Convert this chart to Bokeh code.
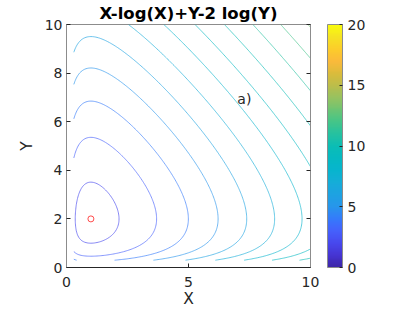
import numpy as np
from bokeh.plotting import figure
from bokeh.models import ColorBar, LinearColorMapper, FixedTicker, LinearAxis, Title
from bokeh.embed import file_html
from bokeh.resources import INLINE
from bokeh.core.properties import value

# ---- data ----
x_grid = np.arange(0.3, 10.0001, 0.05)
y_grid = np.arange(0.3, 10.0001, 0.05)
levels = [2, 3, 4, 5, 6, 7, 8, 9, 10, 11, 12, 13]
min_x = [1.0]
min_y = [2.0]
x_ticks = [0, 5, 10]
y_ticks = [0, 2, 4, 6, 8, 10]
cbar_ticks = [0, 5, 10, 15, 20]
clim_low, clim_high = 0, 20
title_text = "X-log(X)+Y-2 log(Y)"
note_x = [7.0]
note_y = [6.94]
note_text = ["a)"]

X, Y = np.meshgrid(x_grid, y_grid)
Z = X - np.log(X) + Y - 2 * np.log(Y)

# ---- parula-like colormap (anchors, interpolated) ----
_anchor_pos = [0.00, 0.05, 0.10, 0.15, 0.20, 0.25, 0.30, 0.35, 0.40, 0.45, 0.50,
               0.55, 0.60, 0.65, 0.70, 0.75, 0.80, 0.85, 0.90, 0.95, 1.00]
_anchor_rgb = [
    (0.2422, 0.1504, 0.6603), (0.2724, 0.2047, 0.8249), (0.2802, 0.2857, 0.9367),
    (0.2717, 0.3770, 0.9889), (0.2084, 0.4790, 0.9860), (0.1540, 0.5902, 0.9218),
    (0.1176, 0.6361, 0.8867), (0.0843, 0.6794, 0.8489), (0.0281, 0.7098, 0.8079),
    (0.0232, 0.7270, 0.7636), (0.0438, 0.7419, 0.7103), (0.1473, 0.7588, 0.6264),
    (0.2642, 0.7727, 0.5372), (0.4300, 0.7700, 0.4500), (0.5945, 0.7617, 0.3744),
    (0.7358, 0.7419, 0.2942), (0.8600, 0.7352, 0.2327), (0.9820, 0.7300, 0.2300),
    (0.9883, 0.8000, 0.1690), (0.9622, 0.8904, 0.1374), (0.9763, 0.9831, 0.0538),
]
_t = np.linspace(0, 1, 256)
_ar = np.array(_anchor_rgb)
_rgb = np.stack([np.interp(_t, _anchor_pos, _ar[:, k]) for k in range(3)], axis=1)
parula = ["#%02x%02x%02x" % tuple(int(round(c * 255)) for c in row) for row in _rgb]


def level_color(v):
    i = int((v - clim_low) / (clim_high - clim_low) * (len(parula) - 1))
    return parula[max(0, min(len(parula) - 1, i))]


line_colors = [level_color(v) for v in levels]

FONT = "DejaVu Sans"
TXT = "#262626"
GRAY = "#8c8c8c"

p = figure(
    frame_width=244, frame_height=243,
    x_range=(0, 10), y_range=(0, 10),
    output_backend="svg", toolbar_location=None,
    min_border_left=66, min_border_top=24, min_border_right=88, min_border_bottom=0,
    background_fill_color="white", border_fill_color="white",
)
p.title = Title(text=title_text, align="center", text_font=FONT, text_font_size="16.5px",
                text_font_style="bold", text_color="black", standoff=3)
p.xgrid.visible = False
p.ygrid.visible = False
p.outline_line_color = GRAY
p.outline_line_width = 1

p.contour(x_grid, y_grid, Z, levels, line_color=line_colors, line_width=0.65, fill_color=None)

p.scatter(min_x, min_y, marker="circle", size=6, fill_color=None, line_color="red", line_width=0.7)

p.text(x=note_x, y=note_y, text=note_text, text_font=value(FONT), text_font_size="14px",
       text_baseline="middle", text_align="left", text_color=TXT)

for ax in (p.xaxis[0], p.yaxis[0]):
    ax.major_tick_in = 4
    ax.major_tick_out = 0
    ax.minor_tick_line_color = None
    ax.major_label_text_font = FONT
    ax.major_label_text_font_size = "14px"
    ax.major_label_text_color = TXT
    ax.axis_label_text_font = FONT
    ax.axis_label_text_font_size = "15.5px"
    ax.axis_label_text_font_style = "normal"
    ax.axis_label_text_color = TXT
    ax.major_tick_line_color = TXT

p.xaxis.ticker = FixedTicker(ticks=x_ticks)
p.yaxis.ticker = FixedTicker(ticks=y_ticks)
p.xaxis.axis_label = "X"
p.yaxis.axis_label = "Y"
p.xaxis.axis_line_color = TXT
p.yaxis.axis_line_color = GRAY
p.xaxis.major_label_standoff = 9
p.yaxis.major_label_standoff = 4
p.xaxis.axis_label_standoff = 0
p.yaxis.axis_label_standoff = 6

# mirrored ticks on the right edge, no labels
right_ax = LinearAxis(ticker=FixedTicker(ticks=y_ticks), major_tick_in=4, major_tick_out=0,
                      minor_tick_line_color=None, axis_line_color=GRAY, major_tick_line_color=TXT,
                      major_label_text_font=FONT, major_label_text_font_size="13px",
                      major_label_text_color=None, major_label_standoff=0)
p.add_layout(right_ax, "right")

mapper = LinearColorMapper(palette=parula, low=clim_low, high=clim_high)
cb = ColorBar(color_mapper=mapper, ticker=FixedTicker(ticks=cbar_ticks), width=15, height=243,
              location=(17, 0),
              padding=0, margin=0, major_tick_in=3, major_tick_out=0, major_tick_line_color=TXT,
              minor_tick_line_color=None, bar_line_color=GRAY,
              major_label_text_font=FONT, major_label_text_font_size="14px",
              major_label_text_color=TXT, label_standoff=5,
              background_fill_alpha=0, border_line_color=None)
p.add_layout(cb, "right")

open("out.html", "w").write(file_html(p, INLINE))
